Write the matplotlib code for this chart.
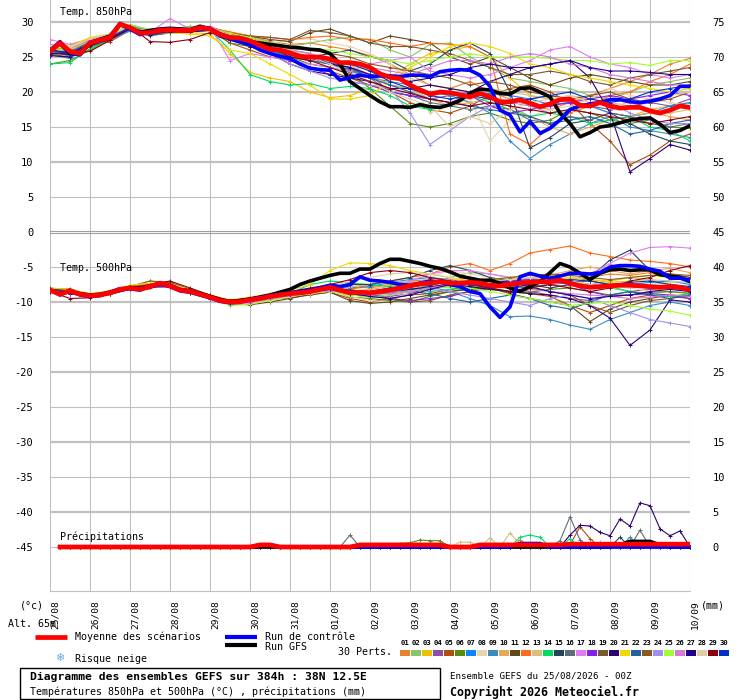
import numpy as np
import matplotlib
matplotlib.use("Agg")
import matplotlib.pyplot as plt
import matplotlib.transforms as mtransforms
from matplotlib.lines import Line2D
from matplotlib.patches import Rectangle

# --- data ---
days = ['25/08', '26/08', '27/08', '28/08', '29/08', '30/08', '31/08', '01/09', '02/09',
        '03/09', '04/09', '05/09', '06/09', '07/09', '08/09', '09/09', '10/09']

member_colors = ['#E8822E', '#88C46A', '#F0C000', '#8C4FA8', '#B04C0C', '#5A8A10', '#0A84FF',
                 '#E8D4B0', '#3A8CC0', '#E8A858', '#604818', '#FF6A1A', '#D4C080', '#00DC60',
                 '#24445C', '#5E6E78', '#E07CF0', '#8A1CF0', '#7A5830', '#300070', '#F0D800',
                 '#24609C', '#8C5820', '#A090EC', '#A0FF30', '#D878D8', '#200090', '#E0CCA8',
                 '#880010', '#0030C0']

hours6 = np.arange(0, 385, 6)      # mean / control / GFS
hours12 = np.arange(0, 385, 12)    # members
hours_rr = np.arange(6, 385, 6)    # precipitation

# 850 hPa (degC)
t850_mean = [25.8, 27.0, 25.8, 25.5, 27.0, 27.4, 27.8, 29.7, 29.2, 28.4, 28.5, 28.8, 28.9, 28.8, 28.8, 29.2,
             29.0, 28.2, 27.8, 27.7, 27.3, 26.7, 26.1, 26.0, 25.6, 25.1, 25.0, 25.0, 24.7, 24.2, 24.2, 24.0,
             23.5, 22.6, 22.1, 21.9, 21.0, 20.3, 19.7, 20.0, 19.9, 19.6, 19.3, 19.8, 19.3, 18.6, 18.6, 18.9,
             18.4, 17.9, 18.3, 18.9, 19.0, 18.1, 18.0, 18.5, 18.0, 17.7, 17.8, 17.8, 17.3, 17.0, 17.4, 18.0,
             17.8]
t850_ctrl = [25.9, 27.2, 25.6, 25.3, 27.1, 27.5, 27.9, 29.8, 29.0, 28.2, 28.6, 28.9, 29.0, 28.9, 28.7, 29.3,
             29.1, 28.0, 27.6, 27.2, 26.8, 26.0, 25.5, 25.1, 24.8, 24.0, 23.4, 23.2, 23.1, 21.7, 22.1, 22.4,
             22.2, 22.3, 22.3, 22.2, 22.4, 22.4, 22.2, 22.9, 23.1, 23.2, 23.1, 22.4, 20.8, 17.4, 16.7, 14.3,
             15.8, 14.1, 14.8, 16.0, 17.5, 18.0, 18.3, 18.5, 18.9, 18.9, 18.6, 18.5, 18.7, 19.0, 19.5, 20.8,
             20.8]
t850_gfs = [26.0, 26.9, 25.5, 25.4, 26.9, 27.5, 28.0, 29.6, 29.1, 28.5, 28.8, 29.0, 29.1, 29.0, 28.9, 29.4,
            29.0, 28.3, 27.8, 27.5, 27.2, 27.0, 26.8, 26.6, 26.4, 26.3, 26.1, 26.0, 25.5, 24.0, 21.5, 20.5,
            19.5, 18.6, 17.9, 17.9, 17.8, 18.2, 17.9, 17.8, 18.2, 18.8, 19.8, 20.4, 20.3, 19.8, 19.7, 20.5,
            20.6, 20.0, 19.3, 17.0, 15.5, 13.6, 14.2, 15.0, 15.2, 15.6, 16.0, 16.2, 16.3, 15.4, 14.2, 14.5,
            15.2]

t850_members = [
    [26.5, 26.0, 27.3, 28.0, 29.4, 28.8, 29.1, 29.2, 29.3, 28.5, 28.0, 27.2, 26.8, 27.0, 26.5, 26.0, 25.2, 24.0, 22.5, 21.0, 20.5, 21.5, 20.0, 19.0, 18.0, 17.5, 18.5, 19.5, 20.5, 21.5, 22.5, 24.0, 24.8],
    [25.5, 25.3, 27.5, 28.2, 29.5, 28.8, 29.0, 29.4, 29.2, 28.4, 27.5, 26.8, 26.5, 27.0, 27.5, 27.8, 27.5, 26.0, 25.0, 26.8, 27.0, 25.0, 23.5, 22.0, 21.5, 21.0, 20.5, 19.5, 19.0, 20.0, 21.0, 21.5, 22.0],
    [26.2, 26.8, 27.6, 28.2, 29.0, 28.6, 28.7, 28.5, 28.3, 25.5, 22.8, 22.0, 21.5, 20.0, 19.2, 19.5, 20.5, 22.0, 24.0, 25.5, 26.0, 26.5, 25.0, 22.0, 19.5, 19.0, 18.5, 18.0, 17.0, 16.5, 17.5, 18.0, 18.5],
    [25.8, 25.4, 26.8, 27.6, 29.0, 28.2, 28.7, 28.9, 29.1, 28.0, 27.8, 26.8, 26.0, 25.5, 24.0, 23.2, 22.5, 20.0, 19.5, 19.0, 19.5, 20.0, 19.2, 18.5, 19.0, 19.5, 18.8, 18.0, 17.5, 18.0, 18.5, 18.0, 19.0],
    [25.4, 25.0, 26.5, 27.2, 28.8, 28.1, 28.4, 28.6, 28.9, 27.0, 26.0, 25.0, 24.5, 23.5, 23.0, 22.0, 21.0, 20.0, 18.5, 17.5, 17.0, 18.0, 19.5, 20.5, 21.0, 20.0, 18.5, 15.5, 13.0, 9.6, 11.0, 13.0, 14.0],
    [24.0, 24.5, 26.0, 27.5, 29.2, 28.4, 28.6, 28.7, 28.8, 27.0, 26.5, 25.5, 25.0, 24.0, 23.5, 22.8, 20.5, 18.0, 15.5, 15.0, 15.5, 16.5, 17.0, 16.0, 15.5, 16.0, 17.5, 17.0, 16.0, 15.5, 16.0, 15.0, 14.8],
    [26.0, 25.6, 27.2, 27.9, 29.6, 28.9, 29.0, 29.0, 29.3, 28.2, 27.5, 26.0, 25.0, 24.5, 24.0, 23.5, 22.5, 21.0, 20.5, 19.5, 20.0, 19.5, 19.8, 19.5, 19.0, 18.2, 18.5, 18.0, 17.0, 16.5, 17.0, 18.0, 18.5],
    [25.9, 26.3, 27.4, 28.0, 29.1, 28.6, 29.2, 29.0, 29.1, 28.0, 27.6, 26.9, 27.5, 27.6, 27.0, 26.5, 25.5, 24.0, 21.5, 17.0, 18.0, 19.0, 13.0, 16.0, 16.5, 17.5, 18.0, 19.0, 20.5, 19.5, 19.0, 18.5, 18.0],
    [25.3, 24.8, 26.6, 27.5, 28.7, 28.0, 28.5, 28.7, 29.0, 27.5, 27.0, 25.5, 25.0, 24.5, 24.0, 23.0, 22.0, 21.5, 21.0, 20.0, 19.5, 18.5, 17.0, 13.0, 10.5, 12.5, 14.0, 15.5, 16.5, 15.0, 14.5, 14.0, 13.5],
    [26.1, 25.9, 27.1, 27.9, 29.3, 28.5, 28.8, 28.6, 29.0, 27.8, 27.0, 26.3, 25.8, 25.0, 24.5, 23.8, 22.5, 21.0, 20.5, 19.0, 18.0, 18.5, 19.0, 18.0, 16.5, 15.0, 14.0, 15.0, 16.0, 16.5, 17.0, 16.5, 16.0],
    [25.8, 25.7, 27.0, 28.0, 29.0, 28.7, 28.9, 28.8, 29.2, 28.5, 28.0, 27.5, 27.2, 28.5, 29.0, 28.0, 27.0, 28.0, 27.5, 27.0, 25.0, 24.0, 25.0, 23.5, 22.0, 21.0, 22.0, 22.5, 22.0, 21.5, 21.0, 21.0, 21.5],
    [25.5, 25.6, 27.1, 27.6, 29.2, 28.7, 28.7, 28.9, 29.1, 28.6, 28.0, 27.8, 27.5, 27.8, 28.0, 27.5, 27.5, 27.0, 26.5, 27.0, 26.8, 26.5, 25.0, 14.0, 12.5, 15.0, 17.0, 18.0, 19.5, 20.0, 21.5, 22.5, 24.0],
    [25.6, 25.9, 27.2, 27.9, 29.0, 28.4, 28.6, 28.7, 28.9, 27.9, 27.3, 26.4, 26.0, 25.5, 24.5, 24.0, 23.0, 22.5, 22.0, 21.0, 20.5, 20.0, 20.5, 20.0, 19.5, 19.0, 19.5, 19.0, 18.5, 18.0, 17.5, 17.0, 17.5],
    [24.0, 24.2, 26.2, 27.4, 29.5, 28.5, 28.8, 28.7, 28.9, 26.0, 22.5, 21.5, 21.0, 21.2, 20.5, 20.8, 20.5, 19.5, 18.0, 17.5, 18.0, 19.5, 18.5, 17.5, 16.5, 17.0, 16.5, 15.5, 16.0, 16.5, 15.0, 14.5, 13.0],
    [25.7, 25.5, 26.9, 27.7, 29.1, 28.6, 28.8, 28.9, 29.0, 28.1, 27.5, 26.5, 25.5, 25.0, 25.5, 26.0, 25.0, 24.5, 23.0, 24.0, 26.0, 27.0, 25.5, 20.0, 12.0, 13.5, 15.5, 16.0, 17.0, 15.5, 14.0, 13.0, 12.5],
    [25.9, 25.1, 26.7, 27.8, 28.9, 28.3, 28.5, 28.6, 28.8, 27.6, 26.8, 25.8, 25.0, 24.5, 24.0, 23.2, 22.0, 20.0, 19.5, 18.5, 18.0, 17.5, 18.0, 17.5, 16.0, 15.5, 16.5, 16.0, 17.0, 16.5, 15.5, 15.0, 15.5],
    [27.5, 26.8, 27.5, 28.2, 29.4, 28.5, 30.5, 29.0, 29.3, 24.5, 25.5, 25.0, 24.5, 24.0, 23.5, 23.0, 24.0, 24.5, 25.0, 23.0, 22.5, 22.0, 22.5, 23.5, 24.5, 26.0, 26.5, 25.0, 24.0, 23.5, 22.5, 22.0, 22.5],
    [26.0, 25.5, 26.9, 27.7, 29.0, 28.3, 28.7, 28.6, 29.0, 27.9, 27.0, 25.5, 24.5, 23.5, 22.5, 21.5, 21.0, 20.0, 19.5, 19.0, 18.5, 19.5, 18.0, 17.0, 17.5, 18.0, 18.5, 19.0, 19.5, 19.0, 19.5, 20.0, 19.5],
    [25.6, 25.8, 27.1, 28.1, 29.0, 28.6, 28.7, 28.8, 29.1, 28.3, 28.0, 27.8, 27.5, 28.8, 28.5, 28.0, 27.0, 26.5, 26.5, 26.0, 25.5, 24.5, 23.5, 22.5, 22.5, 23.0, 22.5, 21.5, 21.0, 22.0, 22.5, 23.0, 23.5],
    [25.2, 25.0, 26.6, 27.5, 29.0, 28.2, 28.5, 28.6, 28.8, 27.4, 26.5, 25.5, 24.0, 23.0, 22.5, 22.0, 21.5, 20.5, 20.5, 21.0, 20.5, 20.0, 21.5, 22.5, 23.5, 24.0, 24.5, 22.0, 17.0, 8.6, 10.5, 12.5, 11.7],
    [25.4, 26.5, 27.8, 28.3, 29.0, 28.5, 28.4, 28.3, 28.0, 26.0, 25.5, 24.0, 22.5, 21.0, 19.0, 19.0, 19.5, 21.5, 23.5, 25.0, 26.5, 27.0, 26.5, 25.5, 24.0, 23.5, 22.5, 22.0, 21.5, 21.0, 20.5, 20.0, 20.5],
    [25.8, 25.3, 26.9, 27.8, 29.2, 28.6, 28.8, 28.8, 29.0, 27.7, 27.1, 26.0, 25.2, 24.8, 24.2, 23.5, 22.0, 21.0, 20.0, 19.0, 18.5, 18.0, 17.5, 17.0, 16.5, 15.5, 16.0, 16.5, 15.5, 14.0, 14.5, 15.5, 16.0],
    [26.3, 25.9, 27.3, 28.0, 29.3, 28.7, 28.9, 28.9, 29.2, 28.3, 27.8, 27.0, 26.5, 26.0, 25.5, 25.0, 24.0, 23.5, 23.0, 22.5, 22.0, 21.0, 21.5, 21.0, 20.0, 19.5, 19.0, 19.5, 20.0, 19.0, 18.5, 19.0, 20.0],
    [26.4, 25.7, 27.0, 27.9, 29.1, 28.4, 28.6, 28.7, 29.0, 27.6, 26.9, 25.5, 24.0, 23.0, 22.0, 21.5, 21.0, 20.5, 17.0, 12.5, 14.5, 16.5, 18.0, 18.5, 18.0, 17.0, 17.5, 18.0, 18.5, 17.0, 16.0, 15.5, 15.5],
    [26.2, 26.0, 27.3, 28.1, 29.6, 28.9, 29.1, 29.0, 29.2, 28.4, 27.8, 27.0, 26.5, 26.2, 26.0, 25.5, 25.0, 24.5, 24.0, 24.5, 25.0, 25.5, 25.0, 25.0, 25.0, 24.8, 24.5, 24.5, 24.0, 24.2, 23.8, 24.5, 24.5],
    [26.8, 26.2, 27.4, 28.0, 29.2, 28.4, 28.7, 28.9, 29.4, 28.0, 27.5, 26.5, 26.0, 25.5, 24.5, 24.0, 23.5, 23.0, 22.5, 23.5, 24.5, 24.5, 24.0, 25.0, 25.5, 25.0, 24.0, 23.5, 22.5, 22.0, 21.5, 21.0, 21.0],
    [25.5, 25.4, 26.8, 27.7, 29.0, 28.3, 28.6, 28.7, 28.9, 27.7, 27.0, 26.0, 25.5, 25.0, 24.0, 23.5, 22.5, 22.0, 21.5, 22.0, 22.5, 23.5, 24.0, 23.5, 23.5, 24.0, 24.5, 23.5, 23.0, 23.0, 22.8, 22.5, 22.5],
    [26.6, 26.4, 27.6, 28.3, 29.2, 28.7, 28.9, 28.8, 29.0, 28.2, 27.5, 26.7, 26.0, 25.0, 24.0, 22.5, 21.5, 20.0, 19.0, 18.0, 15.0, 16.5, 15.5, 17.5, 18.5, 19.0, 19.5, 18.5, 18.0, 18.5, 19.0, 19.5, 20.0],
    [26.0, 25.5, 25.8, 27.4, 29.4, 27.2, 27.1, 27.5, 28.5, 27.5, 27.0, 26.5, 25.0, 24.5, 23.5, 22.5, 21.5, 20.5, 19.8, 19.0, 18.5, 18.0, 18.5, 18.0, 17.5, 17.0, 17.5, 17.0, 16.5, 16.0, 15.5, 16.0, 16.5],
    [26.0, 25.6, 27.0, 27.8, 29.2, 28.5, 28.8, 28.9, 29.0, 27.9, 27.2, 26.2, 25.5, 25.0, 24.6, 24.0, 23.0, 21.5, 20.5, 19.5, 19.0, 19.5, 19.0, 18.5, 19.0, 19.5, 20.0, 19.0, 18.5, 19.0, 20.0, 20.5, 21.0],
]

# 500 hPa (degC)
t500_mean = [-8.3, -8.9, -8.4, -8.9, -9.1, -9.0, -8.7, -8.2, -8.0, -8.2, -7.8, -7.3, -7.7, -8.3, -8.5, -8.9,
             -9.3, -9.8, -10.0, -9.95, -9.7, -9.5, -9.2, -9.0, -8.8, -8.7, -8.5, -8.2, -7.9, -8.3, -8.7, -8.6,
             -8.7, -8.5, -8.3, -8.0, -7.7, -7.4, -7.3, -7.1, -7.3, -7.3, -7.2, -7.3, -7.6, -7.7, -7.5, -7.3,
             -7.2, -7.1, -7.1, -6.9, -7.3, -7.7, -7.9, -7.8, -7.7, -7.6, -7.6, -7.7, -7.8, -7.9, -7.8, -7.9,
             -8.3]
t500_ctrl = [-8.2, -9.0, -8.3, -9.0, -9.2, -9.1, -8.6, -8.1, -8.1, -8.3, -7.7, -7.4, -7.8, -8.4, -8.6, -9.0,
             -9.4, -9.9, -10.1, -10.0, -9.6, -9.4, -9.1, -8.9, -8.7, -8.5, -8.3, -8.0, -7.6, -7.8, -7.5, -6.4,
             -6.9, -7.0, -7.2, -7.5, -7.6, -7.3, -7.0, -7.2, -7.5, -7.8, -8.5, -8.8, -10.7, -12.2, -10.7, -6.4,
             -5.9, -6.3, -6.6, -6.3, -5.9, -5.9, -6.0, -5.8, -5.0, -4.8, -4.8, -4.9, -5.3, -5.6, -6.6, -6.6,
             -6.9]
t500_gfs = [-8.4, -8.8, -8.5, -8.8, -9.0, -8.9, -8.6, -8.3, -7.9, -8.1, -7.9, -7.4, -7.6, -8.2, -8.4, -8.8,
            -9.2, -9.7, -9.9, -9.8, -9.6, -9.3, -9.0, -8.6, -8.2, -7.5, -7.0, -6.6, -6.2, -5.9, -5.9, -5.3,
            -5.3, -4.5, -3.9, -3.9, -4.2, -4.5, -4.9, -5.2, -5.7, -6.3, -6.6, -6.9, -6.9, -7.3, -8.0, -8.5,
            -7.8, -7.1, -5.8, -4.5, -5.0, -5.9, -6.8, -5.9, -5.4, -5.3, -5.5, -5.4, -5.4, -6.1, -6.3, -6.5,
            -7.1]

t500_members = [
    [-8.0, -8.3, -9.2, -8.5, -7.8, -7.4, -7.5, -8.3, -9.4, -10.2, -9.5, -9.0, -8.6, -8.2, -7.5, -7.8, -8.0, -7.5, -7.0, -6.8, -7.0, -7.5, -7.8, -7.0, -6.5, -7.0, -6.8, -6.5, -6.0, -6.2, -5.8, -6.0, -6.5],
    [-8.4, -8.6, -9.0, -8.6, -8.2, -7.9, -7.7, -8.6, -9.1, -10.0, -9.9, -9.5, -9.0, -8.7, -8.5, -9.0, -9.0, -8.5, -8.2, -7.5, -6.5, -5.8, -6.0, -6.5, -6.8, -6.5, -7.0, -7.5, -8.0, -8.5, -8.8, -8.5, -8.7],
    [-8.6, -8.5, -9.2, -8.8, -7.9, -7.0, -7.5, -8.4, -9.5, -10.4, -9.8, -9.5, -9.3, -9.0, -8.5, -8.2, -7.8, -7.5, -7.2, -7.5, -7.0, -7.5, -7.8, -8.0, -7.5, -7.0, -6.5, -6.8, -7.2, -7.0, -6.8, -7.5, -7.8],
    [-8.2, -8.8, -9.3, -8.9, -8.1, -7.9, -7.8, -8.7, -9.4, -10.1, -9.8, -9.4, -9.0, -8.7, -8.2, -8.8, -9.0, -9.2, -8.8, -8.0, -7.5, -7.0, -7.5, -8.0, -8.5, -9.0, -9.5, -9.8, -9.0, -8.5, -8.2, -8.0, -8.5],
    [-8.4, -8.6, -9.0, -8.8, -8.1, -7.7, -7.9, -8.6, -9.3, -10.1, -10.0, -9.6, -9.4, -9.0, -8.6, -9.5, -10.0, -9.5, -9.0, -8.8, -8.2, -7.8, -8.0, -8.5, -8.8, -9.2, -10.5, -11.5, -10.5, -9.5, -9.0, -9.2, -9.5],
    [-8.1, -8.2, -9.1, -8.7, -8.0, -7.5, -7.6, -8.4, -9.2, -10.0, -9.6, -9.1, -8.7, -8.4, -8.3, -9.3, -9.5, -9.8, -10.0, -9.2, -8.5, -8.0, -8.2, -8.5, -8.6, -8.2, -8.0, -8.5, -9.0, -9.0, -8.6, -8.5, -8.8],
    [-8.3, -8.5, -9.0, -8.8, -8.1, -7.8, -7.7, -8.5, -9.3, -10.2, -9.7, -9.2, -8.8, -8.4, -7.8, -8.0, -7.8, -7.2, -6.8, -6.5, -6.8, -7.2, -7.5, -7.2, -6.8, -6.5, -7.0, -7.5, -7.8, -7.5, -7.2, -7.0, -7.5],
    [-8.5, -8.8, -9.3, -8.6, -7.9, -7.6, -7.8, -8.6, -9.5, -10.5, -10.2, -9.7, -9.3, -8.8, -8.5, -9.2, -9.8, -10.0, -8.5, -6.5, -5.5, -6.0, -6.5, -7.0, -7.5, -8.0, -7.5, -7.0, -7.5, -8.0, -8.5, -8.0, -8.2],
    [-8.0, -8.4, -9.0, -8.7, -8.0, -7.8, -7.6, -8.5, -9.2, -10.1, -9.6, -9.2, -8.9, -8.5, -8.0, -8.3, -8.5, -8.0, -7.5, -7.8, -8.5, -9.5, -10.5, -12.1, -12.0, -12.5, -13.3, -13.9, -12.5, -11.5, -10.5, -10.0, -10.5],
    [-8.3, -8.5, -9.1, -8.6, -7.9, -7.7, -7.6, -8.4, -9.3, -10.0, -9.8, -9.3, -8.8, -8.5, -8.2, -8.5, -8.2, -7.8, -7.3, -7.0, -6.8, -6.5, -6.8, -7.0, -6.5, -6.2, -5.5, -5.0, -5.5, -6.0, -5.5, -5.2, -5.8],
    [-8.4, -8.7, -9.2, -8.8, -8.1, -7.8, -7.7, -8.5, -9.4, -10.3, -10.4, -10.0, -9.5, -8.9, -8.6, -9.8, -10.2, -10.0, -9.5, -9.0, -8.5, -8.2, -8.0, -8.8, -9.5, -10.0, -10.5, -12.8, -11.0, -10.0, -9.5, -9.0, -9.2],
    [-8.2, -8.1, -9.0, -8.4, -7.8, -7.5, -7.2, -8.2, -9.2, -9.9, -9.5, -9.0, -8.6, -8.3, -8.0, -8.2, -7.5, -7.0, -6.5, -6.0, -5.0, -4.5, -5.5, -4.5, -3.0, -2.5, -2.0, -3.0, -3.5, -4.0, -4.2, -4.5, -5.0],
    [-8.3, -8.6, -9.2, -8.8, -8.0, -7.7, -7.8, -8.6, -9.4, -10.0, -9.6, -9.2, -8.8, -8.6, -8.0, -7.8, -7.5, -7.2, -7.0, -7.5, -7.8, -8.0, -7.5, -7.0, -7.2, -7.5, -7.8, -7.5, -7.0, -6.5, -6.8, -7.0, -7.2],
    [-8.2, -8.4, -9.0, -8.7, -8.2, -7.9, -7.6, -8.6, -9.3, -10.1, -9.9, -9.5, -8.8, -7.5, -7.0, -7.3, -7.5, -7.8, -8.0, -8.5, -8.2, -8.0, -7.5, -7.0, -6.8, -7.0, -7.2, -7.5, -7.8, -8.5, -9.0, -9.2, -8.8],
    [-8.1, -8.4, -9.1, -8.7, -8.0, -7.7, -7.7, -8.5, -9.4, -10.2, -9.7, -9.3, -8.9, -8.4, -7.8, -7.5, -7.5, -7.0, -6.5, -5.5, -4.8, -5.5, -6.5, -7.0, -7.5, -8.0, -7.5, -6.5, -4.0, -2.6, -5.5, -6.0, -6.5],
    [-8.4, -8.5, -9.1, -8.8, -8.1, -7.8, -7.8, -8.5, -9.4, -10.1, -9.7, -9.2, -8.9, -8.5, -8.1, -8.6, -8.8, -8.5, -8.2, -8.0, -7.8, -7.5, -7.8, -8.0, -7.8, -7.5, -7.2, -7.0, -7.5, -7.8, -8.0, -7.8, -8.0],
    [-8.6, -8.7, -9.3, -8.9, -8.1, -7.9, -7.9, -8.7, -9.5, -10.4, -10.0, -9.5, -9.2, -8.8, -8.4, -8.8, -9.0, -8.5, -7.0, -6.0, -5.5, -5.5, -6.0, -6.5, -7.0, -7.5, -7.0, -6.0, -4.5, -3.0, -2.2, -2.1, -2.3],
    [-8.3, -8.5, -9.1, -8.7, -8.1, -7.7, -7.8, -8.6, -9.3, -10.1, -9.8, -9.3, -8.9, -8.4, -8.2, -8.7, -9.2, -9.5, -9.8, -9.5, -9.2, -8.5, -7.8, -7.0, -6.8, -7.0, -7.5, -8.5, -9.2, -9.0, -8.8, -9.0, -9.5],
    [-8.2, -8.4, -9.0, -8.6, -7.8, -7.0, -7.2, -8.2, -9.2, -9.8, -9.5, -9.1, -8.7, -8.3, -8.0, -8.5, -8.8, -9.5, -10.0, -9.8, -9.0, -8.5, -8.0, -7.8, -8.0, -8.5, -9.0, -10.5, -11.5, -10.5, -9.8, -9.5, -9.0],
    [-8.4, -8.8, -9.3, -8.9, -8.2, -7.9, -7.8, -8.7, -9.5, -10.3, -9.9, -9.4, -9.0, -8.6, -8.2, -8.6, -8.9, -8.7, -8.2, -7.8, -7.5, -7.8, -8.2, -8.5, -8.8, -9.0, -9.5, -10.5, -12.3, -16.2, -14.0, -9.7, -10.0],
    [-8.0, -8.2, -8.8, -8.4, -7.6, -7.3, -7.4, -8.2, -9.0, -9.7, -9.3, -8.8, -8.3, -7.5, -5.5, -4.4, -4.5, -4.8, -5.5, -6.0, -6.5, -7.0, -6.8, -6.5, -6.0, -6.2, -6.5, -6.8, -7.0, -6.5, -6.2, -6.5, -7.0],
    [-8.3, -8.6, -9.2, -8.8, -8.0, -7.8, -7.7, -8.6, -9.3, -10.2, -9.8, -9.4, -9.0, -8.7, -8.3, -8.9, -9.3, -9.0, -8.5, -8.8, -9.5, -10.0, -9.5, -9.0, -9.5, -10.5, -11.0, -10.0, -9.0, -8.5, -9.0, -9.5, -9.0],
    [-8.2, -8.5, -9.1, -8.6, -7.9, -7.6, -7.6, -8.4, -9.2, -10.0, -9.6, -9.1, -8.7, -8.4, -8.0, -8.4, -8.6, -8.2, -7.8, -7.5, -7.2, -7.0, -6.8, -6.5, -6.2, -6.0, -6.2, -6.5, -6.8, -6.5, -6.2, -6.0, -6.2],
    [-8.5, -8.7, -9.2, -8.8, -8.1, -7.8, -7.8, -8.6, -9.4, -10.2, -9.8, -9.4, -9.0, -8.6, -8.3, -8.6, -8.8, -8.6, -8.4, -8.2, -8.5, -9.0, -9.5, -10.0, -10.5, -9.5, -9.0, -9.5, -10.5, -11.5, -12.5, -13.0, -13.5],
    [-8.3, -8.5, -9.1, -8.7, -8.0, -7.8, -7.7, -8.5, -9.3, -10.5, -10.3, -9.8, -9.2, -8.8, -8.5, -9.0, -9.3, -9.0, -8.5, -8.0, -7.8, -8.0, -8.5, -9.0, -9.5, -10.0, -10.5, -10.2, -10.0, -10.5, -11.0, -11.3, -11.9],
    [-8.4, -8.6, -9.2, -8.8, -8.1, -7.8, -7.9, -8.6, -9.4, -10.3, -10.1, -9.6, -9.1, -8.7, -8.4, -8.7, -9.0, -8.8, -8.5, -8.0, -7.5, -7.2, -7.5, -7.8, -8.2, -8.5, -8.8, -9.0, -9.2, -9.5, -9.3, -9.0, -9.2],
    [-8.2, -8.5, -9.1, -8.7, -8.0, -7.7, -7.7, -8.5, -9.3, -10.1, -9.7, -9.2, -8.8, -8.5, -8.2, -8.8, -9.2, -9.5, -9.0, -8.2, -7.5, -7.0, -6.8, -7.2, -7.8, -8.5, -9.0, -9.5, -9.2, -9.0, -8.5, -8.2, -8.5],
    [-8.3, -8.6, -9.1, -8.8, -8.0, -7.6, -7.5, -8.3, -9.2, -10.0, -9.6, -9.2, -8.7, -8.2, -7.8, -7.0, -6.5, -6.0, -5.8, -6.0, -6.5, -7.5, -7.0, -6.8, -6.5, -6.8, -7.0, -7.5, -7.8, -8.0, -7.5, -7.2, -7.0],
    [-8.5, -9.5, -9.4, -8.9, -8.0, -7.5, -7.0, -8.0, -9.0, -9.8, -9.4, -9.0, -8.5, -8.0, -7.5, -6.8, -5.8, -5.5, -5.8, -6.5, -7.0, -7.5, -8.0, -8.5, -8.0, -7.5, -8.0, -8.5, -8.0, -7.0, -6.5, -5.5, -4.8],
    [-8.3, -8.6, -9.1, -8.7, -8.0, -7.7, -7.7, -8.5, -9.3, -10.1, -9.8, -9.3, -8.8, -8.4, -8.0, -8.3, -8.5, -8.0, -7.8, -7.5, -7.2, -7.5, -7.8, -8.0, -7.5, -7.0, -6.8, -7.0, -7.5, -7.2, -7.0, -7.5, -7.8],
]

# precipitation (mm / 6h), 6h .. 384h
rr_mean = [0.0] * 20 + [0.3, 0.3] + [0.0] * 8 + [0.3] * 9 + [0.0] * 3 + [0.3] * 9 + [0.4] * 13
rr_ctrl = [0.0] * 20 + [0.3, 0.3] + [0.0] * 24 + [0.5, 0.5, 0.5] + [0.0] * 15
rr_gfs = [0.0] * 56 + [0.3, 0.8, 0.8, 0.8, 0.3, 0.0, 0.0, 0.0]
# member number -> (hour, mm) where it is not zero
rr_member_peaks = {
    5: [(312, 0.3), (318, 2.9), (324, 1.2)],
    6: [(210, 0.5), (216, 0.6), (222, 1.0), (228, 0.9), (234, 0.9)],
    9: [(348, 1.4)],
    12: [(282, 1.0)],
    13: [(246, 0.7), (252, 0.7), (264, 1.3), (276, 2.0), (282, 0.4)],
    14: [(282, 1.4), (288, 1.7), (294, 1.4), (312, 1.2)],
    15: [(342, 1.4)],
    16: [(180, 1.7), (306, 0.9), (312, 4.3), (318, 1.0), (354, 2.4)],
    17: [(330, 0.7)],
    20: [(312, 1.7), (318, 3.1), (324, 3.0), (330, 2.1), (336, 1.6), (342, 4.0), (348, 3.0),
         (354, 6.3), (360, 5.9), (366, 2.6), (372, 1.6), (378, 2.3)],
}

# --- layout (figure is 740 x 700 px) ---
W, H = 740, 700
PX_DEG = 7.0
RR_BASE = -45
MONO = 'DejaVu Sans Mono'
GRID = '#C0C0C0'

fig = plt.figure(figsize=(W / 100, H / 100), dpi=100)
fig.patch.set_facecolor('white')
ax = fig.add_axes([50 / W, 1 - 591 / H, 640 / W, 591 / H])
ax.set_xlim(0, 384)
ax.set_ylim(30 - (591 - 22) / PX_DEG, 30 + 22 / PX_DEG)

# grid
for h in range(0, 385, 24):
    ax.axvline(h, color=GRID, lw=0.8, zorder=0)
for lev in range(30, -50, -5):
    if lev == 0:
        ax.axhline(0.21, color='#A0A0A0', lw=0.8, zorder=0)
        ax.axhline(-0.21, color='#A0A0A0', lw=0.8, zorder=0)
    elif lev % 10 == 0:
        ax.axhline(lev, color=GRID, lw=1.6, zorder=0)
    else:
        ax.axhline(lev, color=GRID, lw=0.8, zorder=0)

# members
for i, col in enumerate(member_colors):
    for series in (t850_members[i], t500_members[i]):
        ax.plot(hours12, series, color=col, lw=0.8, marker='+', ms=3, mew=0.7, zorder=2)
    rr = np.zeros(len(hours_rr))
    for hr, mm in rr_member_peaks.get(i + 1, []):
        rr[list(hours_rr).index(hr)] = mm
    ax.plot(hours_rr, RR_BASE + rr, color=col, lw=0.8, marker='+', ms=3, mew=0.7, zorder=2)

# GFS, control and mean
for data in (t850_gfs, t500_gfs):
    ax.plot(hours6, data, color='black', lw=2.6, zorder=3)
ax.plot(hours_rr, RR_BASE + np.array(rr_gfs), color='black', lw=2.6, zorder=3)
for data in (t850_ctrl, t500_ctrl):
    ax.plot(hours6, data, color='#0000FF', lw=2.6, zorder=4)
ax.plot(hours_rr, RR_BASE + np.array(rr_ctrl), color='#0000FF', lw=2.6, zorder=4)
for data in (t850_mean, t500_mean):
    ax.plot(hours6, data, color='#FF0000', lw=3.4, zorder=5)
ax.plot(hours_rr, RR_BASE + np.array(rr_mean), color='#FF0000', lw=3.4, zorder=5)

# axes
for s in ('top', 'left', 'right'):
    ax.spines[s].set_visible(False)
ax.spines['bottom'].set_color(GRID)
ax.spines['bottom'].set_linewidth(0.8)
left_ticks = list(range(30, -50, -5))
ax.set_yticks(left_ticks)
ax.set_yticklabels([str(v) for v in left_ticks], family=MONO, fontsize=7.5)
ax.tick_params(axis='y', length=0, pad=12)
ax.set_xticks([])

ax2 = ax.twinx()
lo, hi = ax.get_ylim()
ax2.set_ylim(lo + 45, hi + 45)
right_ticks = list(range(75, -5, -5))
ax2.set_yticks(right_ticks)
ax2.set_yticklabels([str(v) for v in right_ticks], family=MONO, fontsize=7.5)
ax2.tick_params(axis='y', length=0, pad=16)
for s in ax2.spines.values():
    s.set_visible(False)

# date labels under the plot
trans = mtransforms.offset_copy(ax.get_xaxis_transform(), fig=fig, x=5, y=-9, units='dots')
for k, d in enumerate(days):
    ax.text(k * 24, 0, d, transform=trans, rotation=90, ha='center', va='top',
            family=MONO, fontsize=6.8, clip_on=False)

# panel titles
ax.text(6, 30 + 10 / PX_DEG, 'Temp. 850hPa', family=MONO, fontsize=7.2, va='center')
ax.text(6, -5 - 1 / PX_DEG, 'Temp. 500hPa', family=MONO, fontsize=7.2, va='center')
ax.text(6, -45 + 10 / PX_DEG, 'Précipitations', family=MONO, fontsize=7.2, va='center')


def ftext(x, y, s, **kw):
    kw.setdefault('family', MONO)
    kw.setdefault('fontsize', 7.2)
    kw.setdefault('va', 'center')
    fig.text(x / W, 1 - y / H, s, **kw)


def fline(x0, x1, y, color, lw):
    fig.add_artist(Line2D([x0 / W, x1 / W], [1 - y / H, 1 - y / H], transform=fig.transFigure,
                          color=color, lw=lw, solid_capstyle='butt'))


ftext(20, 606, '(°c)')
ftext(701, 606, '(mm)')
ftext(8, 624, 'Alt. 65m')

fline(35, 67, 637, '#FF0000', 3.4)
ftext(75, 637, 'Moyenne des scénarios')
fline(225, 257, 637, '#0000FF', 3.0)
ftext(265, 637, 'Run de contrôle')
fline(225, 257, 645, 'black', 3.0)
ftext(265, 647, 'Run GFS')
ftext(392, 652, '30 Perts.', ha='right')
ftext(60, 658, '\u2744', family='DejaVu Sans', fontsize=8, color='#5AAAE6', ha='center')
ftext(75, 659, 'Risque neige')

for i, col in enumerate(member_colors):
    x0 = 400 + i * 11
    fig.add_artist(Rectangle((x0 / W, 1 - 656 / H), 10 / W, 6 / H, transform=fig.transFigure,
                             facecolor=col, edgecolor='none'))
    ftext(x0 + 5, 643, '%02d' % (i + 1), fontsize=5.2, weight='bold', ha='center')

fig.add_artist(Rectangle((20 / W, 1 - 699 / H), 420 / W, 31 / H, transform=fig.transFigure,
                         facecolor='none', edgecolor='black', lw=1.0))
ftext(30, 677, 'Diagramme des ensembles GEFS sur 384h : 38N 12.5E', fontsize=8.2, weight='bold')
ftext(30, 692, 'Températures 850hPa et 500hPa (°C) , précipitations (mm)', fontsize=7.2)
ftext(450, 676, 'Ensemble GEFS du 25/08/2026 - 00Z', fontsize=6.6)
ftext(450, 692, 'Copyright 2026 Meteociel.fr', fontsize=8.4, weight='bold')

fig.savefig('out.png', dpi=100, facecolor='white')
